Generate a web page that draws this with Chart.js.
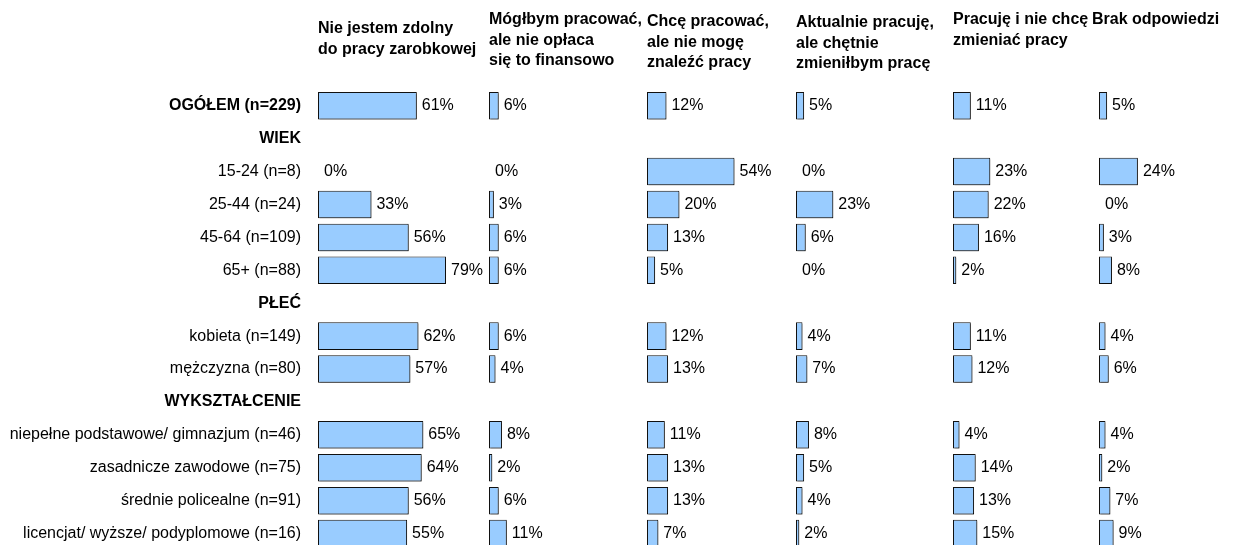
<!DOCTYPE html>
<html lang="pl">
<head>
<meta charset="utf-8">
<title>Sytuacja zawodowa</title>
<script src="https://cdn.jsdelivr.net/npm/chart.js@4.4.1/dist/chart.umd.min.js"></script>
<style>
  html, body { margin: 0; padding: 0; background: #fff; overflow: hidden; }
  canvas { display: block; }
</style>
</head>
<body>
<canvas id="wykres" width="1234" height="550"></canvas>
<script>
const kategorie = [
  'OGÓŁEM (n=229)', 'WIEK', '15-24 (n=8)', '25-44 (n=24)', '45-64 (n=109)', '65+ (n=88)',
  'PŁEĆ', 'kobieta (n=149)', 'mężczyzna (n=80)', 'WYKSZTAŁCENIE',
  'niepełne podstawowe/ gimnazjum (n=46)', 'zasadnicze zawodowe (n=75)',
  'średnie policealne (n=91)', 'licencjat/ wyższe/ podyplomowe (n=16)'
];
const pogrubione = ['OGÓŁEM (n=229)', 'WIEK', 'PŁEĆ', 'WYKSZTAŁCENIE'];

const naglowki = [
  ['Nie jestem zdolny', 'do pracy zarobkowej'],
  ['Mógłbym pracować,', 'ale nie opłaca', 'się to finansowo'],
  ['Chcę pracować,', 'ale nie mogę', 'znaleźć pracy'],
  ['Aktualnie pracuję,', 'ale chętnie', 'zmieniłbym pracę'],
  ['Pracuję i nie chcę', 'zmieniać pracy'],
  ['Brak odpowiedzi']
];

// wartosci w %, null = wiersz naglowka grupy
const nieZdolny   = [61, null, 0, 33, 56, 79, null, 62, 57, null, 65, 64, 56, 55];
const nieOplaca   = [6, null, 0, 3, 6, 6, null, 6, 4, null, 8, 2, 6, 11];
const nieMoge     = [12, null, 54, 20, 13, 5, null, 12, 13, null, 11, 13, 13, 7];
const zmienilbym  = [5, null, 0, 23, 6, 0, null, 4, 7, null, 8, 5, 4, 2];
const nieZmieniam = [11, null, 23, 22, 16, 2, null, 11, 12, null, 4, 14, 13, 15];
const brakOdp     = [5, null, 24, 0, 3, 8, null, 4, 6, null, 4, 2, 7, 9];

const serie = [nieZdolny, nieOplaca, nieMoge, zmienilbym, nieZmieniam, brakOdp];

// uklad
const PX = 1.62;                                  // pikseli na 1%
const szerokosci = [171, 158, 149, 157, 139, 142]; // szerokosc kolumn
const przesuniecia = [0, 0, 0, 0, 0, 7];          // od poczatku osi do zera
const gorne = [18.75, 9.75, 11.75, 12.75, 9.75, 9.75];
const LH = 20.5;
const GORA = 89.35;
const FONT = "'Liberation Sans', Arial, sans-serif";

Chart.defaults.font.family = FONT;
Chart.defaults.color = '#000';

const scales = {
  y: {
    type: 'category',
    afterFit: s => {
      s.width = 318;
      // bez dodatkowego marginesu pod ostatnia etykieta
      s.paddingTop = 0;
      s.paddingBottom = 0;
    },
    grid: { display: false, drawTicks: false, tickLength: 0 },
    border: { display: false },
    ticks: {
      autoSkip: false,
      padding: 17,
      color: '#000',
      font: ctx => ({ size: 16, weight: pogrubione.includes(kategorie[ctx.index]) ? 'bold' : 'normal' })
    }
  }
};

serie.forEach((dane, i) => {
  const min = -przesuniecia[i] / PX;
  scales['x' + i] = {
    type: 'linear',
    axis: 'x',
    position: 'top',
    stack: 'kolumny',
    stackWeight: szerokosci[i],
    weight: serie.length - i,
    min: min,
    max: min + szerokosci[i] / PX,
    grid: { display: false, drawTicks: false },
    border: { display: false },
    ticks: { display: false },
    title: {
      display: true,
      text: naglowki[i],
      align: 'start',
      color: '#000',
      font: { size: 16, weight: 'bold', lineHeight: LH + 'px' },
      padding: { top: gorne[i], bottom: GORA - gorne[i] - naglowki[i].length * LH }
    }
  };
});

const cien = {
  id: 'cien',
  beforeDatasetsDraw(chart) {
    const ctx = chart.ctx;
    ctx.save();
    ctx.shadowColor = 'rgba(0,0,0,0.35)';
    ctx.shadowOffsetX = 1.5;
    ctx.shadowOffsetY = 1.5;
    ctx.shadowBlur = 0;
  },
  afterDatasetsDraw(chart) {
    chart.ctx.restore();
  }
};

const etykiety = {
  id: 'etykiety',
  afterDatasetsDraw(chart) {
    const ctx = chart.ctx;
    ctx.save();
    ctx.font = '16px ' + FONT;
    ctx.fillStyle = '#000';
    ctx.textBaseline = 'middle';
    ctx.textAlign = 'left';
    chart.data.datasets.forEach((ds, i) => {
      chart.getDatasetMeta(i).data.forEach((bar, j) => {
        const v = ds.data[j];
        if (v === null) return;
        const x = v === 0 ? bar.base + 6 : bar.x + 5;
        ctx.fillText(v + '%', x, bar.y);
      });
    });
    ctx.restore();
  }
};

new Chart(document.getElementById('wykres'), {
  type: 'bar',
  data: {
    labels: kategorie,
    datasets: serie.map((dane, i) => ({
      label: naglowki[i].join(' '),
      data: dane,
      xAxisID: 'x' + i,
      yAxisID: 'y',
      grouped: false,
      backgroundColor: '#99ccff',
      borderColor: '#111',
      borderWidth: 1,
      borderSkipped: false,
      categoryPercentage: 1,
      barPercentage: 0.836
    }))
  },
  options: {
    indexAxis: 'y',
    responsive: false,
    animation: false,
    devicePixelRatio: 1,
    layout: { padding: 0 },
    scales: scales,
    plugins: {
      legend: { display: false },
      tooltip: { enabled: false }
    }
  },
  plugins: [cien, etykiety]
});
</script>
</body>
</html>
